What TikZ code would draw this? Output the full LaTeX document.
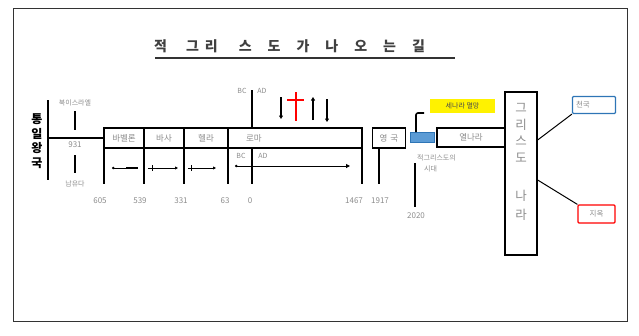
\documentclass[tikz,border=0pt]{standalone}
\usepackage{fontspec}
\setmainfont{Noto Sans CJK KR}
\usetikzlibrary{arrows.meta}
\definecolor{lbl}{gray}{0.55}
\definecolor{boxblue}{RGB}{91,155,213}
\definecolor{edgeblue}{RGB}{46,117,182}
\tikzset{
  ln/.style={line width=1.3pt, black},
  tbox/.style={draw, line width=1.3pt, inner sep=0pt, font=\fontsize{8.5}{9}\selectfont, text=lbl},
  small/.style={inner sep=0pt, font=\fontsize{8}{9}\selectfont, text=lbl},
  tiny/.style={inner sep=0pt, font=\fontsize{7}{8}\selectfont, text=lbl},
  big/.style={inner sep=0pt, font=\fontsize{12.5}{13}\selectfont, text=lbl},
}
\begin{document}
\begin{tikzpicture}[x=1pt,y=-1pt]
\useasboundingbox (0,0) rectangle (639,335);
% frame
\node[draw=black!80, line width=0.6pt, minimum width=614pt, minimum height=313pt, inner sep=0pt] (frame) at (320,164.5) {};
% title
\node[anchor=west, inner sep=0pt, font=\fontsize{14}{15}\selectfont\bfseries, text=black!75] (title) at (154,46)
 {적\kern19pt 그\kern6pt 리\kern21pt 스\kern16pt 도\kern16pt 가\kern16pt 나\kern16pt 오\kern16pt 는\kern16pt 길};
\coordinate (ul1) at (155,58);
\coordinate (ul2) at (455,58);
\draw[line width=1.6pt, black!80] (ul1) -- (ul2);
% left united kingdom
\foreach \c/\y [count=\i] in {통/119,일/134,왕/148,국/163}
  \node[inner sep=0pt, font=\fontsize{12}{13}\selectfont\bfseries] (uk\i) at (37,\y) {\c};
\coordinate (lv1) at (48,100);
\coordinate (lv2) at (48,180);
\coordinate (lh) at (48,138);
\draw[ln] (lv1) -- (lv2);
% boxes
\node[tbox, minimum width=40pt, minimum height=20pt] (bab) at (124,138) {바벨론};
\node[tbox, minimum width=40pt, minimum height=20pt] (bas) at (164,138) {바사};
\node[tbox, minimum width=44pt, minimum height=20pt] (hel) at (206,138) {헬라};
\node[tbox, minimum width=134pt, minimum height=20pt, text width=122pt, align=left] (rome) at (295,138) {\kern12pt 로마};
\node[tbox, minimum width=33pt, minimum height=20pt] (eng) at (389,138) {영\kern3pt 국};
\node[draw=edgeblue, fill=boxblue, line width=0.8pt, minimum width=24pt, minimum height=10pt, inner sep=0pt] (blue) at (422,137.5) {};
\node[tbox, minimum width=68pt, minimum height=19pt] (ten) at (471,137.5) {열나라};
\node[tbox, minimum width=32pt, minimum height=163pt] (kingdom) at (521,173.5) {};
\node[fill=yellow, minimum width=65pt, minimum height=14pt, inner sep=0pt, font=\fontsize{7}{8}\selectfont, text=black!70] (yel) at (462.5,106) {세나라 멸망};
\node[draw=edgeblue, line width=1.2pt, rounded corners=1pt, minimum width=43pt, minimum height=17pt, inner sep=0pt, font=\fontsize{7.5}{8}\selectfont, text=lbl, text width=36pt, align=left] (heaven) at (594,105) {천국};
\node[draw=red, line width=1.2pt, rounded corners=1pt, minimum width=37pt, minimum height=18pt, inner sep=0pt, font=\fontsize{7.5}{8}\selectfont, text=lbl] (hell) at (596.5,214) {지옥};
% kingdom text
\foreach \c/\y [count=\i] in {그/108,리/125,스/141,도/158,나/196,라/215}
  \node[big] (kc\i) at (521,\y) {\c};
% connectors
\draw[ln] (lh) -- (bab.west);
\draw[line width=1pt] (kingdom.east |- 0,140) coordinate (k1) -- (heaven.south west);
\draw[line width=1pt] (kingdom.east |- 0,180) coordinate (k2) -- (hell.north west);
% left labels
\node[tiny] (nisr) at (75,103) {북이스라엘};
\node[small] (y931) at (75,145) {931};
\node[tiny] (sjud) at (75,184) {남유다};
\draw[ln] (75,111) coordinate (a1) -- (75,130) coordinate (a2);
\draw[ln] (75,155) coordinate (a3) -- (75,173) coordinate (a4);
% verticals under boxes
\foreach \x/\n in {104/v605,144/v539,184/v331,228/v63,252/v0,362/v1467,379/v1917}
  \draw[ln] (\x,148) coordinate (\n a) -- (\x,184) coordinate (\n b);
\draw[ln] (362,128) -- (362,148);
\draw[ln] (252,90) coordinate (adtop) -- (252,128) coordinate (adbot);
% numbers
\foreach \x/\t/\n in {100/605/n605,140/539/n539,181/331/n331,225/63/n63,250/0/n0,354/1467/n1467,380/1917/n1917}
  \node[small] (\n) at (\x,201) {\t};
% BC AD
\node[tiny] (bc1) at (242,91) {BC};
\node[tiny] (ad1) at (262,91) {AD};
\node[tiny] (bc2) at (241,156) {BC};
\node[tiny] (ad2) at (263,156) {AD};
% small arrows
\draw[ln, line width=1pt, {Circle[length=2.5pt]}-] (112,168) coordinate (s1) -- (138,168) coordinate (s2);
\draw[line width=2.5pt] (126,168) -- (138,168);
\draw[ln, line width=1pt, -{Triangle[length=3pt,width=3pt]}] (148,168) coordinate (s3) -- (178,168) coordinate (s4);
\draw[line width=1pt] (152,165) -- (152,171);
\draw[ln, line width=1pt, -{Triangle[length=3pt,width=3pt]}] (188,168) coordinate (s5) -- (216,168) coordinate (s6);
\draw[line width=1pt] (191,165) -- (191,171);
\draw[ln, line width=1pt, {Circle[length=2.5pt]}-{Triangle[length=4pt,width=4pt]}] (235,166) coordinate (r1) -- (350,166) coordinate (r2);
% arrows over rome
\draw[ln, line width=1.5pt, -{Triangle[length=3.5pt,width=4pt]}] (281,97) coordinate (t1) -- (281,119) coordinate (t2);
\draw[red, line width=1.5pt] (296,92) coordinate (c1) -- (296,121) coordinate (c2);
\draw[red, line width=1.5pt] (287,100) coordinate (c3) -- (304,100) coordinate (c4);
\draw[ln, line width=1.5pt, -{Triangle[length=3.5pt,width=4pt]}] (313,120) coordinate (t3) -- (313,97) coordinate (t4);
\draw[ln, line width=1.5pt, -{Triangle[length=3.5pt,width=4pt]}] (327,99) coordinate (t5) -- (327,122) coordinate (t6);
% blue box hook
\draw[ln, line width=1.6pt, rounded corners=2pt] (blue.north -| 416,0) -- (416,113) -- (424,113) coordinate (hk);
% antichrist era text
\node[tiny, anchor=west] (era1) at (417,158) {적그리스도의};
\node[tiny, anchor=west] (era2) at (424,169) {시대};
\draw[ln] (415,163) coordinate (e1) -- (415,207) coordinate (e2);
\node[small] (y2020) at (416,216) {2020};
\end{tikzpicture}
\end{document}
